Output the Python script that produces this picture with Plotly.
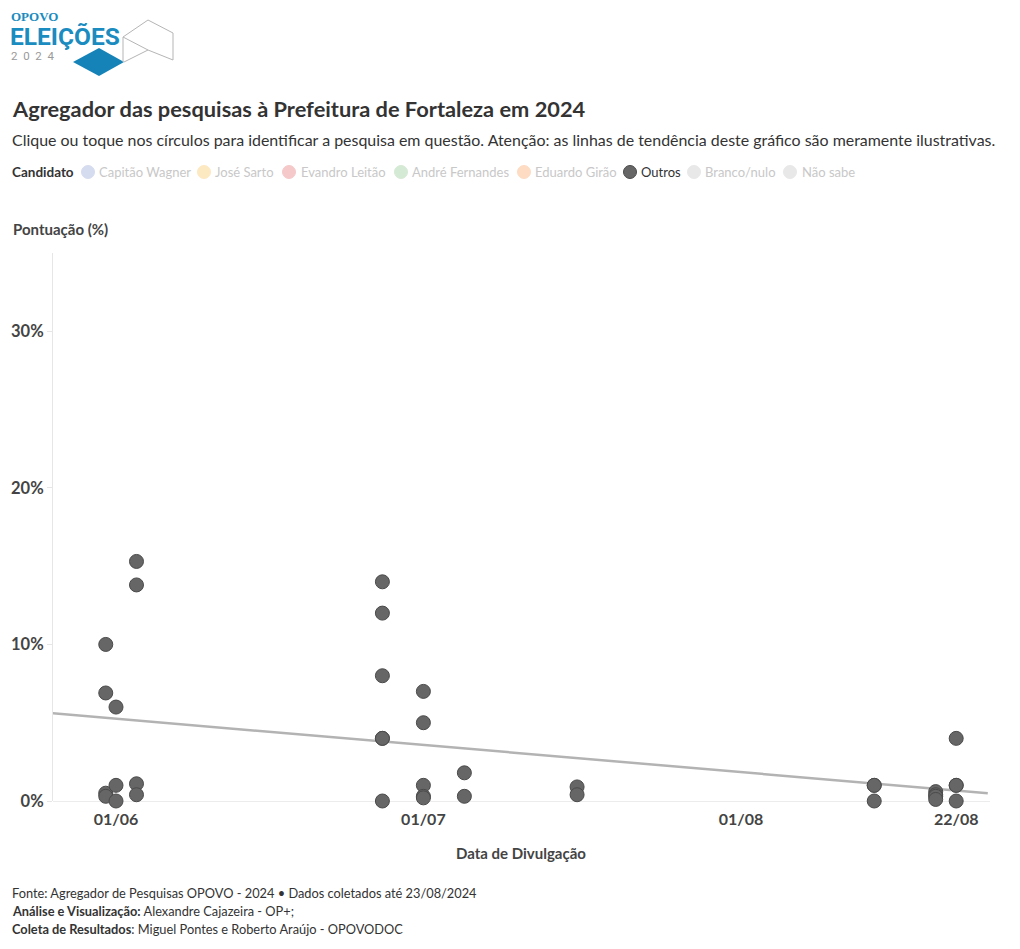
import plotly.graph_objects as go

# ---------------- data ----------------
poll_dates = (
    ["2024-05-31"] * 4 + ["2024-06-01"] * 3 + ["2024-06-03"] * 4 +
    ["2024-06-27"] * 6 + ["2024-07-01"] * 5 + ["2024-07-05"] * 2 +
    ["2024-07-16"] * 2 + ["2024-08-14"] * 3 + ["2024-08-20"] * 4 +
    ["2024-08-22"] * 4
)
outros_values = [
    10.0, 6.9, 0.5, 0.3,
    6.0, 1.0, 0.0,
    15.3, 13.8, 1.1, 0.4,
    14.0, 12.0, 8.0, 4.0, 4.0, 0.0,
    7.0, 5.0, 1.0, 0.3, 0.2,
    1.8, 0.3,
    0.9, 0.4,
    1.0, 1.0, 0.0,
    0.6, 0.4, 0.3, 0.1,
    4.0, 1.0, 1.0, 0.0,
]
trend_dates = ["2024-05-25 20:00", "2024-08-25 02:00"]
trend_values = [5.6, 0.5]

x_tick_vals = ["2024-06-01", "2024-07-01", "2024-08-01", "2024-08-22"]
x_tick_text = ["01/06", "01/07", "01/08", "22/08"]
y_tick_vals = [0, 10, 20, 30]
y_tick_text = ["0%", "10%", "20%", "30%"]

legend_names = ["Capitão Wagner", "José Sarto", "Evandro Leitão", "André Fernandes",
                "Eduardo Girão", "Outros", "Branco/nulo", "Não sabe"]
legend_colors = ["#d6dcef", "#fde9c1", "#f5c9c9", "#d5ead4",
                 "#fddcc3", "#666666", "#e8e8e8", "#e8e8e8"]
legend_active = [False, False, False, False, False, True, False, False]

# ---------------- layout helpers ----------------
W, H = 1004, 933
ML, MR, MT, MB = 45, 22, 245, 140
FONT = "Lato"


def px(xr):  # reference pixel x -> paper
    return (xr - 8 - ML) / (W - ML - MR)


def py(yr):  # reference pixel y -> paper
    return 1 - (yr - 8 - MT) / (H - MT - MB)


fig = go.Figure()

fig.add_trace(go.Scatter(
    x=trend_dates, y=trend_values, mode="lines",
    line=dict(color="#b3b3b3", width=2.5), hoverinfo="skip", showlegend=False,
))
fig.add_trace(go.Scatter(
    x=poll_dates, y=outros_values, mode="markers", name="Outros",
    marker=dict(size=14, color="#666666", line=dict(color="#4a4a4a", width=1)),
    cliponaxis=False, showlegend=False,
))

annotations = []
shapes = []

# title / subtitle
annotations.append(dict(text="<b>Agregador das pesquisas à Prefeitura de Fortaleza em 2024</b>",
                        x=px(10), y=py(108), xref="paper", yref="paper", xanchor="left", yanchor="middle",
                        showarrow=False, font=dict(family=FONT, size=21.8, color="#333333")))
annotations.append(dict(text="Clique ou toque nos círculos para identificar a pesquisa em questão. Atenção: as linhas de tendência deste gráfico são meramente ilustrativas.",
                        x=px(10), y=py(139), xref="paper", yref="paper", xanchor="left", yanchor="middle",
                        showarrow=False, font=dict(family=FONT, size=15.95, color="#333333")))

# legend (manual)
annotations.append(dict(text="<b>Candidato</b>", x=px(10), y=py(172), xref="paper", yref="paper",
                        xanchor="left", yanchor="middle", showarrow=False,
                        font=dict(family=FONT, size=13.5, color="#333333")))
legend_circle_x = [88, 204, 289, 401, 524, 630, 694, 790]
legend_text_x = [97, 213, 299, 410, 533, 639, 703, 800]
for name, col, act, cx, tx in zip(legend_names, legend_colors, legend_active, legend_circle_x, legend_text_x):
    shapes.append(dict(type="circle", xref="paper", yref="paper",
                       x0=px(cx - 6.5), x1=px(cx + 6.5), y0=py(172 + 6.5), y1=py(172 - 6.5),
                       fillcolor=col, line=dict(color="#4a4a4a" if act else col, width=1)))
    annotations.append(dict(text=name, x=px(tx), y=py(172), xref="paper", yref="paper",
                            xanchor="left", yanchor="middle", showarrow=False,
                            font=dict(family=FONT, size=13, color="#333333" if act else "#c8c8c8")))

# axis titles
annotations.append(dict(text="<b>Pontuação (%)</b>", x=px(11), y=py(229), xref="paper", yref="paper",
                        xanchor="left", yanchor="middle", showarrow=False,
                        font=dict(family=FONT, size=15, color="#444444")))
annotations.append(dict(text="<b>Data de Divulgação</b>", x=px(521), y=py(853), xref="paper", yref="paper",
                        xanchor="center", yanchor="middle", showarrow=False,
                        font=dict(family=FONT, size=15, color="#444444")))

# footer
footer = [
    "Fonte: Agregador de Pesquisas OPOVO - 2024 • Dados coletados até 23/08/2024",
    "<b>Análise e Visualização:</b> Alexandre Cajazeira - OP+;",
    "<b>Coleta de Resultados</b>: Miguel Pontes e Roberto Araújo - OPOVODOC",
]
for i, line in enumerate(footer):
    annotations.append(dict(text=line, x=px(10), y=py(893 + 18 * i), xref="paper", yref="paper",
                            xanchor="left", yanchor="middle", showarrow=False,
                            font=dict(family=FONT, size=12.8, color="#333333")))

# logo
BLUE = "#1a8cc0"
annotations.append(dict(text="<b>OPOVO</b>", x=px(9), y=py(17), xref="paper", yref="paper",
                        xanchor="left", yanchor="middle", showarrow=False,
                        font=dict(family="Liberation Serif", size=13, color=BLUE)))
annotations.append(dict(text="<b>ELEIÇÕES</b>", x=px(8), y=py(36.5), xref="paper", yref="paper",
                        xanchor="left", yanchor="middle", showarrow=False,
                        font=dict(family="Roboto", size=24.5, color=BLUE)))
annotations.append(dict(text="2  0  2  4", x=px(9), y=py(56), xref="paper", yref="paper",
                        xanchor="left", yanchor="middle", showarrow=False,
                        font=dict(family="Roboto", size=11.5, color="#9a9a9a")))


def logo_path(points, close=False):
    s = "M " + " L ".join(f"{px(a)},{py(b)}" for a, b in points)
    return s + (" Z" if close else "")


shapes.append(dict(type="path", xref="paper", yref="paper",
                   path=logo_path([(73, 62), (99, 48), (124, 62), (99, 76)], close=True),
                   fillcolor="#1683b8", line=dict(width=0)))
for seg in [[(123, 37), (148, 20), (173, 33), (173, 60)],
            [(123, 37), (148, 50), (173, 60)],
            [(123, 37), (123, 62)],
            [(148, 50), (124, 62)]]:
    shapes.append(dict(type="path", xref="paper", yref="paper", path=logo_path(seg),
                       line=dict(color="#b5b5b5", width=1)))

fig.update_layout(
    width=W, height=H,
    margin=dict(l=ML, r=MR, t=MT, b=MB, autoexpand=False),
    paper_bgcolor="white", plot_bgcolor="white",
    showlegend=False,
    annotations=annotations, shapes=shapes,
    font=dict(family=FONT, color="#444444"),
    xaxis=dict(
        type="date", range=["2024-05-25 20:26", "2024-08-25 07:12"],
        tickvals=x_tick_vals, ticktext=x_tick_text,
        tickfont=dict(family=FONT, size=16, color="#444444", weight="bold"),
        showgrid=False, zeroline=False, showline=False, ticks="", ticklen=0,
        ticklabelstandoff=7, automargin=False,
    ),
    yaxis=dict(
        range=[0, 35], tickvals=y_tick_vals, ticktext=y_tick_text,
        tickfont=dict(family=FONT, size=16.5, color="#444444", weight="bold"),
        showgrid=False, zeroline=True, zerolinecolor="#ececec", zerolinewidth=1,
        showline=True, linecolor="#e6e6e6", linewidth=1,
        ticks="outside", ticklen=5, tickcolor="#e6e6e6", automargin=False,
    ),
    hovermode="closest",
)

fig.write_html("out.html")
